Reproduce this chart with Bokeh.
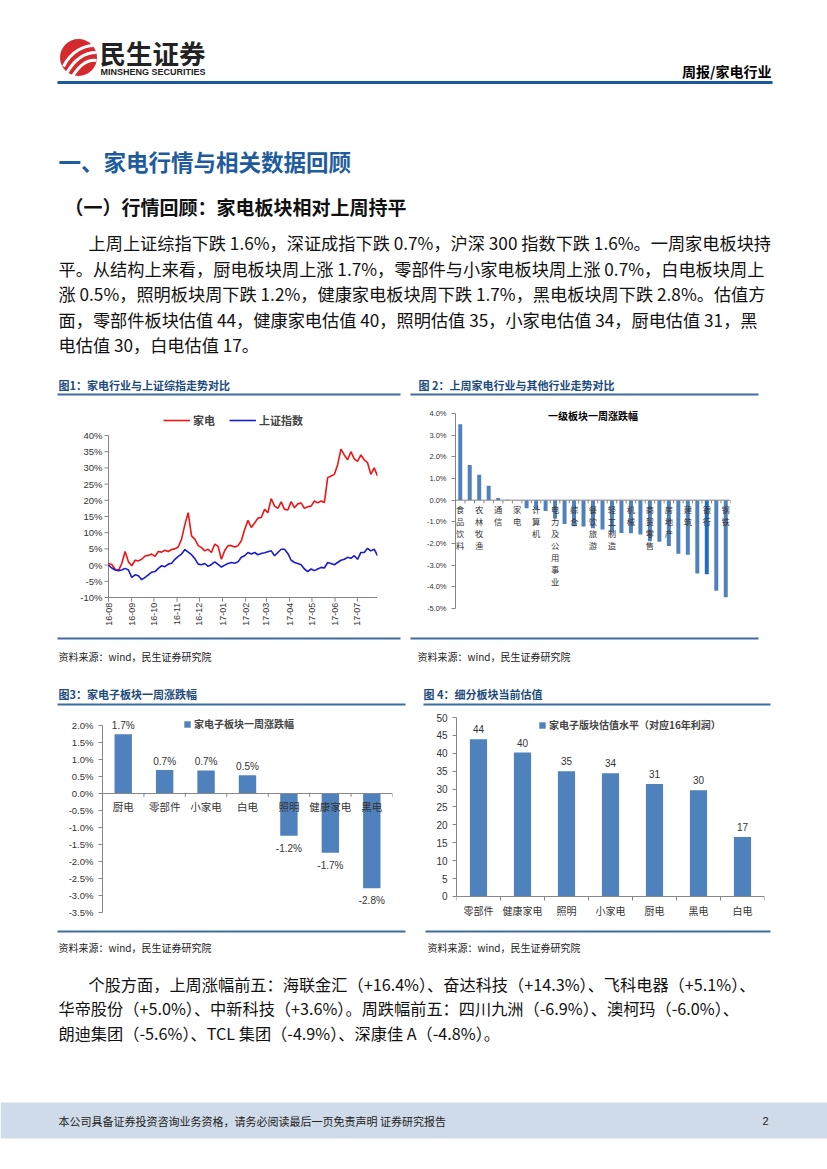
import math
import pandas as pd
from bokeh.plotting import figure
from bokeh.layouts import column, row
from bokeh.models import (Range1d, FixedTicker, PrintfTickFormatter, Legend, LegendItem, Span)
from bokeh.core.properties import value
from bokeh.embed import file_html
from bokeh.resources import INLINE

CJK = "Noto Sans CJK SC"
LAT = "Liberation Sans"

# ---------------- data ----------------
fig1_start = "2016-08-01"
fig1_end = "2017-07-28"
fig1_months = ["2016-08-01", "2016-09-01", "2016-10-01", "2016-11-01", "2016-12-01", "2017-01-01",
               "2017-02-01", "2017-03-01", "2017-04-01", "2017-05-01", "2017-06-01", "2017-07-01"]
jd_index = [0.5, 0.2, -1.3, -1.7, 0.5, 4.2, 1.0, -0.2, 1.5, 1.3,
            1.8, 2.8, 3.0, 3.4, 2.7, 4.2, 4.0, 4.6, 4.2, 4.8,
            5.0, 5.6, 8.0, 12.5, 16.2, 9.0, 8.0, 6.0, 5.4, 4.4,
            4.9, 3.9, 6.5, 5.8, 1.8, 4.5, 6.0, 6.0, 5.6, 6.0,
            7.5, 11.0, 13.8, 11.6, 13.0, 14.5, 14.7, 17.2, 16.2, 20.5,
            18.2, 17.5, 19.5, 17.2, 17.0, 19.6, 17.7, 18.9, 19.2, 17.5,
            18.0, 18.2, 19.8, 19.2, 19.8, 19.3, 27.0, 27.5, 28.0, 31.0,
            35.8, 34.0, 32.5, 35.0, 32.8, 32.0, 34.0, 32.5, 31.6, 28.0,
            30.0, 27.5]
sh_index = [0.0, -0.9, -1.5, -1.7, -1.5, -1.0, -1.5, -3.8, -3.0, -3.3,
            -4.5, -3.8, -3.0, -2.2, -2.0, -1.0, -0.2, -0.5, 0.3, 0.6,
            1.8, 2.7, 3.4, 4.8, 4.0, 3.2, 2.0, 0.3, 0.1, 0.5,
            -0.4, 0.2, 1.0, 0.2, -0.6, 0.0, 0.5, 0.8, 0.6, 1.0,
            2.4, 2.9, 3.9, 3.4, 3.9, 3.2, 3.6, 3.8, 4.1, 4.4,
            2.9, 3.9, 4.9, 4.9, 3.6, 1.5, 0.8, 0.5, 0.1, -1.2,
            -2.0, -1.2, -1.7, -1.2, -0.7, -0.9, 0.8, 0.5, 0.1, 0.8,
            1.5, 1.8, 2.4, 2.1, 2.9, 1.8, 3.9, 3.9, 5.2, 4.4,
            4.9, 2.9]
fig1_yticks = [-10, -5, 0, 5, 10, 15, 20, 25, 30, 35, 40]

ind_names = ["食品饮料", "医药", "农林牧渔", "传媒", "通信", "电子元器件", "家电", "汽车",
             "计算机", "纺织服装", "电力及公用事业", "国防军工", "综合", "基础化工", "餐饮旅游",
             "交通运输", "轻工制造", "电力设备", "机械", "石油石化", "商贸零售", "建材",
             "房地产", "非银行金融", "建筑", "有色金属", "银行", "煤炭", "钢铁"]
ind_chg = [3.5, 1.62, 1.17, 0.66, 0.1, 0.02, -0.02, -0.37,
           -0.42, -0.5, -0.85, -1.1, -1.2, -1.22, -1.3,
           -1.35, -1.5, -1.52, -1.53, -1.58, -1.9, -1.92,
           -2.12, -2.47, -2.52, -3.38, -3.42, -4.18, -4.48]
fig2_yticks = [-5, -4, -3, -2, -1, 0, 1, 2, 3, 4]

sub_names = ["厨电", "零部件", "小家电", "白电", "照明", "健康家电", "黑电"]
sub_chg = [1.74, 0.69, 0.68, 0.54, -1.24, -1.74, -2.79]
fig3_yticks = [-3.5, -3.0, -2.5, -2.0, -1.5, -1.0, -0.5, 0.0, 0.5, 1.0, 1.5, 2.0]

val_names = ["零部件", "健康家电", "照明", "小家电", "厨电", "黑电", "白电"]
val_pe = [43.9, 40.2, 35.0, 34.4, 31.4, 29.7, 16.6]
fig4_yticks = [0, 5, 10, 15, 20, 25, 30, 35, 40, 45, 50]

para1 = ["上周上证综指下跌 1.6%，深证成指下跌 0.7%，沪深 300 指数下跌 1.6%。一周家电板块持",
         "平。从结构上来看，厨电板块周上涨 1.7%，零部件与小家电板块周上涨 0.7%，白电板块周上",
         "涨 0.5%，照明板块周下跌 1.2%，健康家电板块周下跌 1.7%，黑电板块周下跌 2.8%。估值方",
         "面，零部件板块估值 44，健康家电估值 40，照明估值 35，小家电估值 34，厨电估值 31，黑",
         "电估值 30，白电估值 17。"]
para2 = ["个股方面，上周涨幅前五：海联金汇（+16.4%）、奋达科技（+14.3%）、飞科电器（+5.1%）、",
         "华帝股份（+5.0%）、中新科技（+3.6%）。周跌幅前五：四川九洲（-6.9%）、澳柯玛（-6.0%）、",
         "朗迪集团（-5.6%）、TCL 集团（-4.9%）、深康佳 A（-4.8%）。"]
SRC = "资料来源：wind，民生证券研究院"

# ---------------- styles ----------------
W = 827
BLUE_T = "#1c4a7d"
RULE = "#3f6c9e"
AX = "#868686"
BAR = "#4f81bd"


def block(top, bottom):
    p = figure(width=W, height=bottom - top, x_range=Range1d(0, W),
               y_range=Range1d(bottom, top), output_backend="svg", toolbar_location=None,
               min_border=0, x_axis_location=None, y_axis_location=None)
    p.grid.visible = False
    p.outline_line_color = None
    return p


def txt(p, x, y, s, size, color="#111", bold=False, font=CJK, align="left"):
    p.text(x=[x], y=[y], text=[s], text_font=value(font), text_font_size=size,
           text_color=color, text_font_style="bold" if bold else "normal",
           text_align=align, text_baseline="middle")


def rule(p, x0, x1, y, color=RULE, w=2):
    p.segment(x0=[x0], y0=[y], x1=[x1], y1=[y], line_color=color, line_width=w)


def chart(width, height, x_range, y_range, left, right, top, bottom, **kw):
    p = figure(width=width, height=height, x_range=x_range, y_range=y_range,
               output_backend="svg", toolbar_location=None, x_axis_location=None,
               min_border_left=left, min_border_right=right, min_border_top=top,
               min_border_bottom=bottom, **kw)
    p.grid.visible = False
    p.outline_line_color = None
    for ax in p.axis:
        ax.axis_line_color = AX
        ax.major_tick_line_color = AX
        ax.minor_tick_line_color = None
        ax.major_tick_in = 0
        ax.major_tick_out = 4
        ax.major_label_text_font = LAT
        ax.major_label_text_color = "#333333"
    return p


def leg(p, items, loc, **kw):
    l = Legend(items=items, location=loc, padding=0, margin=0, label_standoff=3,
               label_height=12, label_text_font=CJK, label_text_font_style="bold",
               border_line_color=None, background_fill_alpha=0, **kw)
    p.add_layout(l)


# ---------------- block A: header & text ----------------
A = block(0, 400)
A.circle(x=[78], y=[57], radius=18.5, fill_color="#d42a2e", line_color=None)
A.bezier(x0=[63, 66, 72], y0=[66, 73, 76], x1=[94, 96, 96], y1=[45, 52, 60],
         cx0=[71, 75, 80], cy0=[50, 57, 63], cx1=[84, 86, 88], cy1=[45, 52, 59],
         line_color="white", line_width=3)
txt(A, 99, 52, "民生证券", "26.5px", color="#222", bold=True)
txt(A, 100, 71.5, "MINSHENG SECURITIES", "9px", color="#222", bold=True, font=LAT)
txt(A, 771, 70, "周报/家电行业", "14px", color="#000", bold=True, align="right")
rule(A, 57, 772, 82, color="#1b5a9a", w=3)
txt(A, 58, 160, "一、家电行情与相关数据回顾", "22.5px", color="#1f5c9e", bold=True)
txt(A, 64, 206, "（一）行情回顾：家电板块相对上周持平", "19px", color="#111", bold=True)
for i, s in enumerate(para1):
    txt(A, 88 if i == 0 else 58, 242 + i * 25.5, s, "17.2px")
txt(A, 58, 384, "图1：家电行业与上证综指走势对比", "11px", color=BLUE_T, bold=True)
txt(A, 418, 384, "图 2：上周家电行业与其他行业走势对比", "11px", color=BLUE_T, bold=True)
rule(A, 57, 400, 394)
rule(A, 410, 758, 394)

# ---------------- fig 1 (frame 405..632, x 70..377) ----------------
dates = pd.date_range(fig1_start, fig1_end, periods=len(jd_index))
months = pd.to_datetime(fig1_months)
t0 = pd.Timestamp(fig1_start)
t1 = pd.Timestamp(fig1_end)
p1 = chart(405, 236, Range1d(t0 - pd.Timedelta(days=51), t1),
           Range1d(-20.80, 49.26), 70, 28, 5, 4, x_axis_type="datetime", y_axis_location=None)
ybase1 = fig1_yticks[0]
tick_len = pd.Timedelta(days=5.4)
# y axis (line, ticks, labels)
p1.segment(x0=[t0], y0=[ybase1], x1=[t0], y1=[fig1_yticks[-1]], line_color=AX, line_width=1)
p1.segment(x0=[t0 - tick_len] * len(fig1_yticks), y0=fig1_yticks, x1=[t0] * len(fig1_yticks),
           y1=fig1_yticks, line_color=AX, line_width=1)
p1.text(x=[t0] * len(fig1_yticks), y=fig1_yticks, text=[f"{v}%" for v in fig1_yticks],
        x_offset=-6, text_font=value(LAT), text_font_size="9.5px", text_color="#333",
        text_align="right", text_baseline="middle")
# x axis (line, ticks, labels)
p1.segment(x0=[t0], y0=[ybase1], x1=[t1], y1=[ybase1], line_color=AX, line_width=1)
p1.segment(x0=months, y0=[ybase1] * len(months), x1=months, y1=[ybase1 - 1.3] * len(months),
           line_color=AX, line_width=1)
p1.text(x=months, y=[ybase1 - 1.6] * len(months), text=[m.strftime("%y-%m") for m in months],
        angle=math.pi / 2, text_font=value(LAT), text_font_size="9px", text_color="#333",
        text_align="right", text_baseline="middle")
r_jd = p1.line(dates, jd_index, line_color="#f01414", line_width=1.6)
r_sh = p1.line(dates, sh_index, line_color="#1a1ad0", line_width=1.6)
leg(p1, [LegendItem(label="家电", renderers=[r_jd]), LegendItem(label="上证指数", renderers=[r_sh])],
    (93, 204), orientation="horizontal", spacing=14, glyph_width=27, glyph_height=12,
    label_text_font_size="11px")

# ---------------- fig 2 (frame 405..632) ----------------
n2 = len(ind_names)
idx2 = list(range(n2))
p2 = chart(422, 236, Range1d(-0.5, n2 - 0.5), Range1d(-6.108, 4.369), 50, 97, 5, 4)
p2.yaxis.ticker = FixedTicker(ticks=fig2_yticks)
p2.yaxis.formatter = PrintfTickFormatter(format="%.1f%%")
p2.yaxis.bounds = (fig2_yticks[0], fig2_yticks[-1])
p2.yaxis.major_label_text_font_size = "7.5px"
colors2 = ["#1f6dc2" if nm == "银行" else BAR for nm in ind_names]
p2.vbar(x=idx2, top=ind_chg, width=0.42, fill_color=colors2, line_color=None)
p2.add_layout(Span(location=0, dimension="width", line_color=AX, line_width=1))
bnd2 = [i - 0.5 for i in range(n2 + 1)]
p2.segment(x0=bnd2, y0=[0] * len(bnd2), x1=bnd2, y1=[-0.15] * len(bnd2), line_color=AX, line_width=1)
lab_idx = idx2[::2]
p2.text(x=lab_idx, y=[0] * len(lab_idx), text=["\n".join(ind_names[i]) for i in lab_idx],
        text_font=value(CJK), text_font_size="8.3px", text_color="#333", text_align="center",
        text_baseline="top", y_offset=3, text_line_height=1.0)
p2.text(x=[(n2 - 1) / 2], y=[3.9], text=["一级板块一周涨跌幅"], text_font=value(CJK),
        text_font_size="10px", text_font_style="bold", text_color="#000",
        text_align="center", text_baseline="middle")

# ---------------- block M ----------------
M = block(636, 710)
rule(M, 57, 400, 638)
rule(M, 410, 758, 638)
txt(M, 58, 656, SRC, "10px", color="#222")
txt(M, 417, 656, SRC, "10px", color="#222")
txt(M, 58, 693, "图3：家电子板块一周涨跌幅", "11px", color=BLUE_T, bold=True)
txt(M, 423, 693, "图 4：细分板块当前估值", "11px", color=BLUE_T, bold=True)
rule(M, 57, 405, 704)
rule(M, 423, 770, 704)

# ---------------- fig 3 (frame 712..918) ----------------
n3 = len(sub_names)
idx3 = list(range(n3))
p3 = chart(405, 210, Range1d(-0.5, n3 - 0.5), Range1d(-3.676, 2.382), 102, 13, 2, 2)
p3.yaxis.ticker = FixedTicker(ticks=fig3_yticks)
p3.yaxis.formatter = PrintfTickFormatter(format="%.1f%%")
p3.yaxis.bounds = (fig3_yticks[0], fig3_yticks[-1])
p3.yaxis.major_label_text_font_size = "9.5px"
r3 = p3.vbar(x=idx3, top=sub_chg, width=0.42, fill_color=BAR, line_color=None)
p3.add_layout(Span(location=0, dimension="width", line_color=AX, line_width=1))
bnd3 = [i - 0.5 for i in range(n3 + 1)]
p3.segment(x0=bnd3, y0=[0] * len(bnd3), x1=bnd3, y1=[-0.1] * len(bnd3), line_color=AX, line_width=1)
p3.text(x=idx3, y=[0] * n3, text=sub_names, text_font=value(CJK), text_font_size="10.5px",
        text_color="#333", text_align="center", text_baseline="top", y_offset=6)
pos3 = [i for i in idx3 if sub_chg[i] >= 0]
neg3 = [i for i in idx3 if sub_chg[i] < 0]
p3.text(x=pos3, y=[sub_chg[i] for i in pos3], text=[f"{sub_chg[i]:.1f}%" for i in pos3],
        text_font=value(LAT), text_font_size="10px", text_color="#333", text_align="center",
        text_baseline="bottom", y_offset=-3)
p3.text(x=neg3, y=[sub_chg[i] for i in neg3], text=[f"{sub_chg[i]:.1f}%" for i in neg3],
        text_font=value(LAT), text_font_size="10px", text_color="#333", text_align="center",
        text_baseline="top", y_offset=7)
leg(p3, [LegendItem(label="家电子板块一周涨跌幅", renderers=[r3])], (81, 187),
    glyph_width=8, glyph_height=8, label_text_font_size="10px")

# ---------------- fig 4 (frame 712..918) ----------------
n4 = len(val_names)
idx4 = list(range(n4))
p4 = chart(422, 210, Range1d(-0.5, n4 - 0.5), Range1d(-6.15, 51.40), 51, 63, 2, 2)
p4.yaxis.ticker = FixedTicker(ticks=fig4_yticks)
p4.yaxis.formatter = PrintfTickFormatter(format="%d")
p4.yaxis.bounds = (fig4_yticks[0], fig4_yticks[-1])
p4.yaxis.major_label_text_font_size = "10px"
r4 = p4.vbar(x=idx4, top=val_pe, width=0.39, fill_color=BAR, line_color=None)
p4.add_layout(Span(location=0, dimension="width", line_color=AX, line_width=1))
bnd4 = [i - 0.5 for i in range(n4 + 1)]
p4.segment(x0=bnd4, y0=[0] * len(bnd4), x1=bnd4, y1=[-1.1] * len(bnd4), line_color=AX, line_width=1)
p4.text(x=idx4, y=[0] * n4, text=val_names, text_font=value(CJK), text_font_size="10px",
        text_color="#333", text_align="center", text_baseline="top", y_offset=7)
p4.text(x=idx4, y=val_pe, text=[f"{v:.0f}" for v in val_pe], text_font=value(LAT),
        text_font_size="10px", text_color="#333", text_align="center",
        text_baseline="bottom", y_offset=-6)
leg(p4, [LegendItem(label="家电子版块估值水平（对应16年利润）", renderers=[r4])], (82, 186),
    glyph_width=8, glyph_height=8, label_text_font_size="10px")

# ---------------- block D ----------------
D = block(920, 1169)
rule(D, 57, 405, 931)
rule(D, 425, 770, 931)
txt(D, 58, 947, SRC, "10px", color="#222")
txt(D, 427, 947, SRC, "10px", color="#222")
for i, s in enumerate(para2):
    txt(D, 88 if i == 0 else 58, 983 + i * 24.5, s, "16.2px")
D.quad(left=[0], right=[W], top=[1102], bottom=[1138], fill_color="#cfdbe8", line_color=None)
txt(D, 58, 1120, "本公司具备证券投资咨询业务资格，请务必阅读最后一页免责声明 证券研究报告", "11px", color="#222")
txt(D, 768, 1120, "2", "11px", color="#222", font=LAT, align="right")

page = column(A, row(p1, p2), M, row(p3, p4), D)
open("out.html", "w").write(file_html(page, INLINE))
